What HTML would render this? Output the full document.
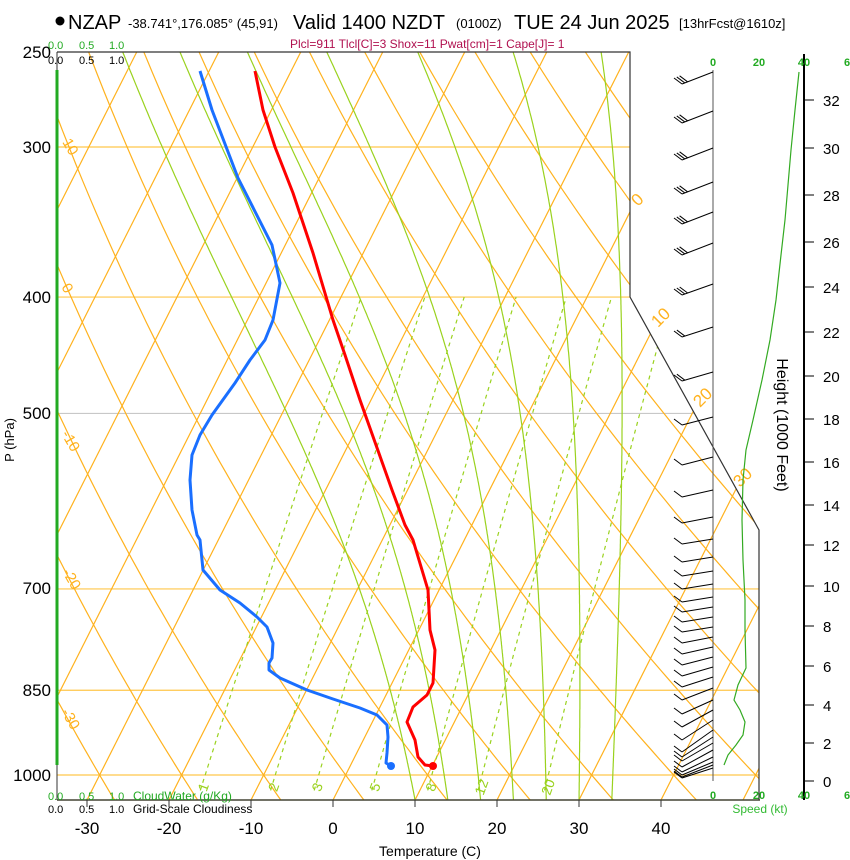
<!DOCTYPE html>
<html><head><meta charset="utf-8"><style>
body{margin:0;background:#fff;width:850px;height:860px;overflow:hidden}
svg{display:block;font-family:"Liberation Sans",sans-serif}
</style></head><body>
<svg id="s" width="850" height="860" xmlns="http://www.w3.org/2000/svg">
<defs><clipPath id="cp"><polygon points="57,52 630,52 630,297 759,530 759,800 57,800"/></clipPath></defs>
<g id="grid" clip-path="url(#cp)"></g>
<g id="fg"></g>
<polyline points="57,52 630,52 630,297 759,530 759,800" fill="none" stroke="#333" stroke-width="1.2"/>
<line x1="57" y1="800" x2="760" y2="800" stroke="#443" stroke-width="1.5"/>
<line x1="57" y1="52" x2="57" y2="800" stroke="#333" stroke-width="1"/>
<line x1="57" y1="70" x2="57" y2="765" stroke="#22aa22" stroke-width="3"/>
<g stroke="#333" stroke-width="1"><line x1="87" y1="800" x2="87" y2="807"/><line x1="169" y1="800" x2="169" y2="807"/><line x1="251" y1="800" x2="251" y2="807"/><line x1="333" y1="800" x2="333" y2="807"/><line x1="415" y1="800" x2="415" y2="807"/><line x1="497" y1="800" x2="497" y2="807"/><line x1="579" y1="800" x2="579" y2="807"/><line x1="661" y1="800" x2="661" y2="807"/></g>
<g font-size="17" text-anchor="middle" fill="#000"><text x="87" y="834">-30</text><text x="169" y="834">-20</text><text x="251" y="834">-10</text><text x="333" y="834">0</text><text x="415" y="834">10</text><text x="497" y="834">20</text><text x="579" y="834">30</text><text x="661" y="834">40</text></g>
<text x="430" y="856" font-size="14" text-anchor="middle">Temperature (C)</text>
<g font-size="17" text-anchor="end"><text x="51" y="58">250</text><text x="51" y="153">300</text><text x="51" y="303">400</text><text x="51" y="419">500</text><text x="51" y="594">700</text><text x="51" y="696">850</text><text x="51" y="781">1000</text></g>
<text transform="translate(14,440) rotate(-90)" font-size="13" text-anchor="middle">P (hPa)</text>
<circle cx="60" cy="21" r="4.5" fill="#000"/>
<text x="68" y="29" font-size="20">NZAP</text>
<text x="128" y="28" font-size="13">-38.741°,176.085° (45,91)</text>
<text x="293" y="29" font-size="20">Valid 1400 NZDT</text>
<text x="456" y="28" font-size="13">(0100Z)</text>
<text x="514" y="29" font-size="20">TUE 24 Jun 2025</text>
<text x="679" y="28" font-size="13">[13hrFcst@1610z]</text>
<text x="290" y="48" font-size="12" fill="#b0104f">Plcl=911 Tlcl[C]=3 Shox=11 Pwat[cm]=1 Cape[J]= 1</text>
<g font-size="11"><g fill="#22aa22"><text x="48" y="49">0.0</text><text x="79" y="49">0.5</text><text x="109" y="49">1.0</text></g>
<text x="48" y="64">0.0</text><text x="79" y="64">0.5</text><text x="109" y="64">1.0</text>
<g fill="#22aa22"><text x="48" y="800">0.0</text><text x="79" y="800">0.5</text><text x="109" y="800">1.0</text><text x="133" y="800" font-size="12">CloudWater (g/Kg)</text></g>
<text x="48" y="813">0.0</text><text x="79" y="813">0.5</text><text x="109" y="813">1.0</text><text x="133" y="813" font-size="12">Grid-Scale Cloudiness</text></g>
<line x1="713" y1="70" x2="713" y2="781" stroke="#555" stroke-width="1"/>
<line x1="804" y1="54" x2="804" y2="800" stroke="#000" stroke-width="2"/>
<g font-size="11" fill="#22aa22" font-weight="bold" text-anchor="middle"><text x="713" y="66">0</text><text x="759" y="66">20</text><text x="804" y="66">40</text><text x="847" y="66">6</text>
<text x="713" y="799">0</text><text x="759" y="799">20</text><text x="804" y="799">40</text><text x="847" y="799">6</text></g>
<text x="760" y="813" font-size="12" fill="#33bb33" text-anchor="middle">Speed (kt)</text>
<text transform="translate(777,425) rotate(90)" font-size="16" text-anchor="middle">Height (1000 Feet)</text>
<polyline points="799,72 795,110 791,150 788,185 785,220 781,255 776,300 770,340 762,380 753,420 746,450 743,480 742,520 743,560 745,600 745,630 746,668 738,685 734,700 740,710 745,722 743,735 736,745 728,755 724,765" fill="none" stroke="#33aa22" stroke-width="1.2"/>
<g id="ht"></g>
<g id="wb" stroke="#000" stroke-width="1" fill="none"></g>
</svg>
<script>
var NS="http://www.w3.org/2000/svg";
function X(T,y){return 333+8.2*T+0.505*(800-y);}
function Y(p){return 775+521.6*Math.log(p/1000);}
function el(par,tag,at,txt){var e=document.createElementNS(NS,tag);for(var k in at)e.setAttribute(k,at[k]);if(txt!=null)e.textContent=txt;par.appendChild(e);return e;}
var g=document.getElementById('grid'),fg=document.getElementById('fg');
var OR="#ffb21e";
[300,400,500,700,850,1000].forEach(function(p){var y=Y(p);el(g,'line',{x1:57,x2:760,y1:y,y2:y,stroke:p==500?"#c8c8c8":"#ffc64a","stroke-width":1.2});});
for(var T=-130;T<=50;T+=10){el(g,'line',{x1:X(T,800),y1:800,x2:X(T,52),y2:52,stroke:OR,"stroke-width":1.2});}
for(var th=-40;th<=220;th+=10){var pts=[];for(var p=1060;p>=240;p-=10){var t=(th+273.15)*Math.pow(p/1000,0.2857)-273.15;var y=Y(p);pts.push(X(t,y).toFixed(1)+","+y.toFixed(1));}el(g,'polyline',{points:pts.join(" "),fill:"none",stroke:OR,"stroke-width":1.2});}
function es(t){return 6.112*Math.exp(17.67*t/(t+243.5));}
[10,14,18,22,26,30,34].forEach(function(T0){var t=T0,p=1049,pts=[];while(p>=245){var y=Y(p);pts.push(X(t,y).toFixed(1)+","+y.toFixed(1));var TK=t+273.15,e=es(t),rs=0.622*e/(p-e);var d=(287*TK+2.5e6*rs)/(p*(1005+2.5e6*2.5e6*rs*0.622/(287*TK*TK)));t-=d*2;p-=2;}el(g,'polyline',{points:pts.join(" "),fill:"none",stroke:"#9ad21e","stroke-width":1.2});});
[1,2,3,5,8,12,20].forEach(function(w){var pts=[];for(var p=1030;p>=400;p-=10){var e=w*p/(622+w),l=Math.log(e/6.112),td=243.5*l/(17.67-l),y=Y(p);pts.push(X(td,y).toFixed(1)+","+y.toFixed(1));}el(g,'polyline',{points:pts.join(" "),fill:"none",stroke:"#9ad21e","stroke-width":1.2,"stroke-dasharray":"4,4"});
var e=w*1042/(622+w),l=Math.log(e/6.112),td=243.5*l/(17.67-l);var x=X(td,787);el(fg,'text',{x:x,y:792,"font-size":14,fill:"#9ad21e","text-anchor":"middle",transform:"rotate(-70 "+x+" 787)"},String(w));});
[[10,62,142],[0,61,287],[-10,61,434],[-20,62,572],[-30,61,712]].forEach(function(a){el(fg,'text',{x:a[1],y:a[2],"font-size":15,fill:OR,transform:"rotate(60 "+a[1]+" "+a[2]+")"},String(a[0]));});
[[0,638,207],[10,658,328],[20,700,408],[30,740,488]].forEach(function(a){el(fg,'text',{x:a[1],y:a[2],"font-size":17,fill:OR,transform:"rotate(-45 "+a[1]+" "+a[2]+")"},String(a[0]));});
var red=[[255,71],[263,110],[275,147],[293,193],[313,253],[333,320],[345,355],[360,400],[376,445],[392,490],[405,525],[413,540],[428,590],[430,630],[435,650],[433,683],[427,695],[413,707],[407,722],[415,740],[418,757],[425,765],[433,766]];
var blue=[[200,71],[212,110],[238,178],[272,245],[280,283],[273,320],[265,340],[250,360],[235,383],[212,415],[200,435],[192,455],[190,480],[192,510],[197,535],[200,540],[203,570],[220,590],[240,603],[257,617],[267,627],[273,643],[272,658],[269,663],[269,670],[280,678],[307,690],[333,699],[360,708],[377,715],[387,725],[388,737],[387,753],[386,763],[391,766]];
function pl(a,c){el(fg,'polyline',{points:a.map(function(q){return q.join(",")}).join(" "),fill:"none",stroke:c,"stroke-width":3,"stroke-linejoin":"round"});}
pl(blue,"#1a6fff");pl(red,"#ff0000");
el(fg,'circle',{cx:391,cy:766,r:4,fill:"#1a6fff"});el(fg,'circle',{cx:433,cy:766,r:4,fill:"#ff0000"});
var ht=document.getElementById('ht');var hy=[781,743,705,666,626,586,545,505,462,419,376,332,287,242,195,148,100];
hy.forEach(function(y,i){el(ht,'line',{x1:804,x2:814,y1:y,y2:y,stroke:"#000"});el(ht,'text',{x:823,y:y+6,"font-size":15},String(i*2));});
var wb=document.getElementById('wb');
var lv=[[72,12,3],[111,12,3],[148,12,3],[182,12,3],[212,12,3],[243,12,3],[284,11,3],[327,10,2],[372,9,2],[417,8,1],[457,8,1],[490,7,1],[517,6,1],[539,5,1],[557,5,1],[571,5,1],[584,5,1],[597,5,1],[607,5,1],[617,5,1],[627,5,1],[637,6,1],[647,7,1],[657,8,1],[667,9,1],[677,10,1],[688,12,1],[700,14,1],[710,17,1],[720,20,1],[730,22,1],[737,20,1],[743,18,1],[750,17,1],[757,15,1],[762,13,1],[765,12,1],[768,10,1]];
lv.forEach(function(a){var y=a[0],dy=a[1],n=a[2],dx=-31;var tx=713+dx,ty=y+dy;el(wb,'line',{x1:713,y1:y,x2:tx,y2:ty});var L=Math.sqrt(dx*dx+dy*dy),ux=-dx/L,uy=-dy/L;for(var i=0;i<n;i++){var bx=tx+ux*i*3,by=ty+uy*i*3;el(wb,'line',{x1:bx,y1:by,x2:bx-8,y2:by-6});}});
</script>
</body></html>
